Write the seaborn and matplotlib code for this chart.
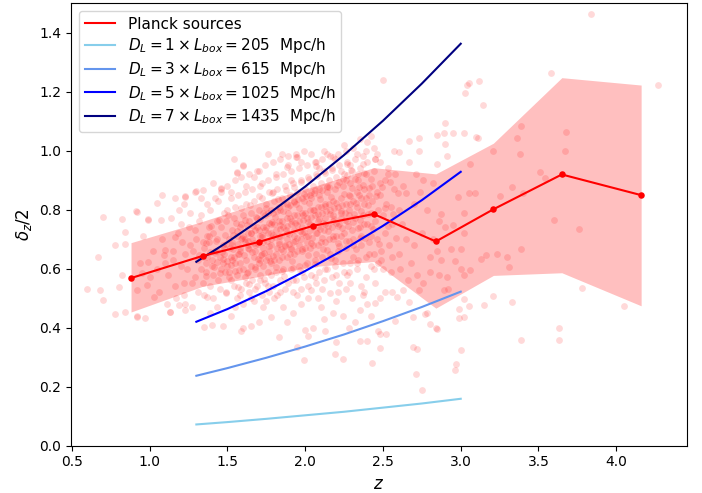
import matplotlib
matplotlib.use("Agg")
import matplotlib.pyplot as plt
import seaborn as sns

# --- binned Planck source statistics ---
bin_z    = [0.88, 1.34, 1.70, 2.05, 2.44, 2.84, 3.21, 3.65, 4.16]
bin_mean = [0.568, 0.643, 0.690, 0.745, 0.785, 0.692, 0.801, 0.919, 0.849]
bin_hi   = [0.688, 0.760, 0.822, 0.878, 0.942, 0.921, 1.025, 1.247, 1.222]
bin_lo   = [0.453, 0.540, 0.573, 0.607, 0.624, 0.466, 0.577, 0.586, 0.474]

# --- D_L reference curves ---
line_z = [1.30, 1.50, 1.75, 2.00, 2.25, 2.50, 2.75, 3.00]
dl_1 = [0.072, 0.080, 0.091, 0.103, 0.115, 0.129, 0.143, 0.159]
dl_3 = [0.237, 0.263, 0.298, 0.336, 0.377, 0.422, 0.470, 0.522]
dl_5 = [0.420, 0.463, 0.524, 0.592, 0.665, 0.745, 0.832, 0.928]
dl_7 = [0.623, 0.690, 0.780, 0.878, 0.985, 1.101, 1.227, 1.362]
dl_labels = [r"$D_L = 1 \times L_{box} = 205$  Mpc/h",
             r"$D_L = 3 \times L_{box} = 615$  Mpc/h",
             r"$D_L = 5 \times L_{box} = 1025$  Mpc/h",
             r"$D_L = 7 \times L_{box} = 1435$  Mpc/h"]
dl_colors = ["skyblue", "cornflowerblue", "blue", "navy"]

# --- individual sources (hand-read estimates) ---
src_left = [(0.70,0.775),(0.82,0.767),(0.91,0.795),(0.67,0.64),(0.78,0.68),(0.84,0.723),(0.84,0.685),
    (0.82,0.58),(0.80,0.537),(0.68,0.527),(0.70,0.493),(0.78,0.445),(0.84,0.452),(0.92,0.44),(0.97,0.433),
    (0.99,0.767),(1.05,0.823),(1.08,0.851),(1.16,0.84),(1.23,0.846),(1.07,0.764),(0.99,0.623),(0.95,0.584),
    (0.92,0.527),(0.98,0.546),(1.03,0.505),(1.06,0.521),(1.10,0.663),(1.09,0.646),(1.15,0.629),(1.13,0.454),
    (1.19,0.476),(1.23,0.46),(1.22,0.818),(1.16,0.708),(0.92,0.792),(0.99,0.764),(1.23,0.844),(1.29,0.86),
    (1.33,0.838),(1.41,0.889),(1.46,0.86),(1.30,0.863),(1.34,0.868),(1.46,0.872),(0.60,0.53),
    (1.12,0.58),(1.15,0.66),(1.18,0.72),(1.20,0.61),(1.22,0.55),(1.17,0.50),(1.14,0.77),(1.21,0.69),
    (1.10,0.62),(1.19,0.80),(1.08,0.70),(1.05,0.60),(1.02,0.66),(1.00,0.57),(0.96,0.71),(0.94,0.62),
    (1.11,0.48),(1.16,0.54),(1.23,0.48),(1.20,0.75)]
src_top = [(1.54,0.973),(1.60,0.949),(1.56,0.924),(1.70,0.931),(1.76,0.987),(1.85,0.987),(1.95,0.977),
    (1.88,0.943),(2.07,0.948),(2.18,0.979),(2.31,1.01),(2.27,0.956),(2.45,0.973),(1.94,0.979),(2.07,0.962),
    (2.14,0.99),(2.29,0.951),(2.37,0.954),(2.46,0.99),(1.56,0.928),(1.60,0.951),(2.50,1.238),(2.40,1.03),
    (2.35,1.04),(2.25,1.02),(2.42,1.05)]
src_right = [(3.03,1.195),(3.04,1.221),(3.05,1.23),(3.12,1.236),(3.14,1.153),(3.58,1.263),(3.84,1.464),
    (4.27,1.221),(2.90,1.093),(3.39,1.082),(3.68,1.062),(3.36,1.041),(3.38,0.988),(3.67,0.997),(3.21,1.0),
    (3.51,0.927),(3.54,0.907),(3.06,0.954),(3.02,1.058),(2.95,1.06),(3.10,1.046),(3.11,1.044),(2.89,1.059),
    (2.85,1.053),(2.73,1.044),(2.67,1.034),(2.90,1.022),(2.91,0.983),(2.85,0.954),(2.73,1.0),(2.57,1.0),
    (2.60,0.995),(2.67,0.96),(2.71,0.922),(2.82,0.89),(2.74,0.86),(2.65,0.855),(2.98,0.843),(3.05,0.857),
    (3.09,0.855),(3.25,0.847),(3.33,0.875),(3.40,0.855),
    (3.60,0.764),(3.76,0.733),(3.39,0.667),(3.23,0.651),(3.30,0.64),(3.31,0.606),(3.16,0.645),(3.13,0.634),
    (3.02,0.719),(3.02,0.787),(2.95,0.747),(2.87,0.785),(2.86,0.76),(3.00,0.668),(2.94,0.665),(2.87,0.629),
    (2.96,0.625),(3.02,0.578),(3.06,0.597),(3.00,0.60),(2.91,0.57),(2.89,0.527),(2.92,0.53),(2.86,0.58),
    (2.80,0.589),(2.80,0.64),(2.72,0.578),(2.73,0.527),(2.76,0.55),(3.02,0.497),(3.05,0.473),(2.99,0.464),
    (2.99,0.433),(3.02,0.435),(3.15,0.477),(3.21,0.507),(3.33,0.486),(3.78,0.535),(4.05,0.474),(3.63,0.40),
    (3.63,0.359),(3.39,0.359),(3.00,0.324),(2.97,0.278),(2.96,0.257),(2.69,0.333),(2.72,0.328),(2.71,0.244),
    (2.75,0.189),(2.80,0.414),(2.84,0.40),(2.85,0.395),(2.78,0.448),(2.77,0.445),(2.69,0.437),(2.58,0.422),
    (2.52,0.38),(2.48,0.38),(2.48,0.331),(2.63,0.527),(2.67,0.488),(2.59,0.505),(2.56,0.52),(2.51,0.521),
    (2.45,0.482),(2.50,0.60),(2.55,0.59),(2.60,0.65),(2.65,0.70),(2.62,0.75),(2.70,0.68),(2.68,0.62),
    (2.75,0.72),(2.78,0.80),(2.82,0.70),(2.85,0.66),(2.90,0.74),(2.60,0.80),(2.63,0.88),(2.58,0.92),
    (2.70,0.82),(2.76,0.90),(2.66,0.56),(2.61,0.60)]
src_low = [(1.35,0.401),(1.40,0.41),(1.47,0.406),(1.59,0.388),(1.60,0.40),(1.65,0.405),(1.70,0.42),
    (1.83,0.369),(1.95,0.335),(1.99,0.29),(2.00,0.392),(2.02,0.373),(2.05,0.40),(2.13,0.39),(2.28,0.40),
    (2.20,0.352),(2.19,0.31),(2.24,0.293),(2.35,0.356),(2.40,0.356),(2.47,0.39),(2.43,0.28),
    (0.92,0.437),(1.13,0.454),(1.22,0.51),(1.27,0.47),(1.37,0.505),(1.39,0.448),(1.49,0.516),(1.55,0.47),
    (1.60,0.48),(1.65,0.50),(1.73,0.471),(1.78,0.437),(1.80,0.50),(1.86,0.47),(1.92,0.448),(1.97,0.48),
    (2.04,0.527),(2.10,0.47),(2.16,0.516),(2.20,0.49),(2.24,0.44),(2.26,0.53),(2.35,0.46),(2.38,0.52),
    (2.42,0.44),(2.30,0.50),(2.12,0.43),(1.88,0.42),(1.52,0.44),(1.43,0.47),(2.32,0.42),(2.40,0.48),
    (2.45,0.55),(2.22,0.55),(2.18,0.45),(2.08,0.50),(1.95,0.51),(1.75,0.49),(2.48,0.50),(2.36,0.54)]
src_fringe = [(1.92,0.56),(1.98,0.59),(2.06,0.57),(2.13,0.60),(2.19,0.63),(2.27,0.58),(2.33,0.62),
    (2.39,0.57),(2.44,0.60),(2.21,0.52),(2.11,0.53),(2.29,0.55),(2.37,0.51),(2.02,0.50),(1.84,0.52),
    (1.76,0.54),(1.68,0.53),(1.58,0.51),(2.41,0.65),(2.31,0.64),
    (1.72,0.89),(1.81,0.92),(1.89,0.95),(1.97,0.96),(2.04,0.99),(2.12,1.00),(2.19,0.97),(2.23,0.93),
    (2.33,0.99),(2.39,1.00),(2.44,1.01),(2.48,0.96),(1.62,0.88),(1.67,0.91),(1.79,0.86),(1.91,0.90),
    (2.09,0.94),(2.26,0.90),(2.34,0.92),(1.52,0.86)]
src_core = [
    (1.24,0.60),(1.26,0.68),(1.25,0.74),(1.27,0.55),(1.23,0.65),(1.26,0.79),
    (1.29,0.57),(1.31,0.63),(1.30,0.70),(1.32,0.76),(1.28,0.66),(1.31,0.52),(1.33,0.60),(1.29,0.73),
    (1.34,0.55),(1.36,0.62),(1.35,0.67),(1.37,0.71),(1.33,0.78),(1.36,0.59),(1.34,0.64),(1.38,0.74),(1.35,0.51),(1.37,0.82),
    (1.39,0.54),(1.41,0.58),(1.40,0.63),(1.42,0.66),(1.38,0.69),(1.41,0.72),(1.43,0.76),(1.39,0.80),(1.40,0.61),(1.42,0.84),(1.41,0.50),(1.38,0.71),
    (1.44,0.56),(1.46,0.60),(1.45,0.64),(1.47,0.68),(1.43,0.70),(1.46,0.74),(1.48,0.79),(1.44,0.83),(1.45,0.53),(1.47,0.62),(1.43,0.66),(1.46,0.87),
    (1.49,0.52),(1.51,0.57),(1.50,0.61),(1.52,0.64),(1.48,0.67),(1.51,0.70),(1.53,0.73),(1.49,0.76),(1.50,0.80),(1.52,0.84),(1.51,0.59),(1.48,0.65),(1.53,0.69),(1.50,0.88),
    (1.54,0.54),(1.56,0.58),(1.55,0.62),(1.57,0.65),(1.53,0.68),(1.56,0.71),(1.58,0.74),(1.54,0.77),(1.55,0.81),(1.57,0.85),(1.56,0.50),(1.53,0.63),(1.58,0.67),(1.55,0.90),
    (1.59,0.53),(1.61,0.57),(1.60,0.60),(1.62,0.63),(1.58,0.66),(1.61,0.69),(1.63,0.72),(1.59,0.75),(1.60,0.78),(1.62,0.82),(1.61,0.86),(1.58,0.62),(1.63,0.68),(1.60,0.71),(1.62,0.55),(1.59,0.91),
    (1.64,0.52),(1.66,0.56),(1.65,0.61),(1.67,0.64),(1.63,0.67),(1.66,0.70),(1.68,0.73),(1.64,0.76),(1.65,0.79),(1.67,0.83),(1.66,0.87),(1.63,0.59),(1.68,0.66),(1.65,0.72),(1.67,0.49),(1.64,0.92),
    (1.69,0.54),(1.71,0.58),(1.70,0.62),(1.72,0.65),(1.68,0.68),(1.71,0.71),(1.73,0.74),(1.69,0.77),(1.70,0.80),(1.72,0.84),(1.71,0.88),(1.68,0.60),(1.73,0.67),(1.70,0.73),(1.72,0.51),(1.69,0.93),(1.71,0.63),(1.73,0.79),
    (1.74,0.55),(1.76,0.59),(1.75,0.63),(1.77,0.66),(1.73,0.69),(1.76,0.72),(1.78,0.75),(1.74,0.78),(1.75,0.82),(1.77,0.86),(1.76,0.90),(1.73,0.61),(1.78,0.68),(1.75,0.74),(1.77,0.52),(1.74,0.95),(1.76,0.64),(1.78,0.80),
    (1.79,0.54),(1.81,0.59),(1.80,0.63),(1.82,0.67),(1.78,0.70),(1.81,0.73),(1.83,0.76),(1.79,0.79),(1.80,0.83),(1.82,0.87),(1.81,0.91),(1.78,0.62),(1.83,0.69),(1.80,0.75),(1.82,0.51),(1.79,0.96),(1.81,0.65),(1.83,0.81),
    (1.84,0.56),(1.86,0.60),(1.85,0.64),(1.87,0.68),(1.83,0.71),(1.86,0.74),(1.88,0.77),(1.84,0.80),(1.85,0.84),(1.87,0.88),(1.86,0.92),(1.83,0.63),(1.88,0.70),(1.85,0.76),(1.87,0.53),(1.84,0.97),(1.86,0.66),(1.88,0.82),
    (1.89,0.55),(1.91,0.60),(1.90,0.65),(1.92,0.69),(1.88,0.72),(1.91,0.75),(1.93,0.78),(1.89,0.81),(1.90,0.85),(1.92,0.89),(1.91,0.93),(1.88,0.64),(1.93,0.71),(1.90,0.77),(1.92,0.52),(1.89,0.98),(1.91,0.67),(1.93,0.83),
    (1.94,0.56),(1.96,0.61),(1.95,0.66),(1.97,0.70),(1.93,0.73),(1.96,0.76),(1.98,0.79),(1.94,0.82),(1.95,0.86),(1.97,0.90),(1.96,0.94),(1.93,0.65),(1.98,0.72),(1.95,0.78),(1.97,0.53),(1.94,0.99),(1.96,0.68),(1.98,0.84),
    (1.99,0.57),(2.01,0.62),(2.00,0.67),(2.02,0.71),(1.98,0.74),(2.01,0.77),(2.03,0.80),(1.99,0.83),(2.00,0.87),(2.02,0.91),(2.01,0.95),(1.98,0.66),(2.03,0.73),(2.00,0.79),(2.02,0.54),(1.99,1.00),(2.01,0.69),(2.03,0.85),
    (2.04,0.58),(2.06,0.63),(2.05,0.68),(2.07,0.72),(2.03,0.75),(2.06,0.78),(2.08,0.81),(2.04,0.84),(2.05,0.88),(2.07,0.92),(2.06,0.96),(2.03,0.67),(2.08,0.74),(2.05,0.80),(2.07,0.55),(2.04,0.86),
    (2.09,0.59),(2.11,0.64),(2.10,0.69),(2.12,0.73),(2.08,0.76),(2.11,0.79),(2.13,0.82),(2.09,0.85),(2.10,0.89),(2.12,0.93),(2.11,0.97),(2.08,0.68),(2.13,0.75),(2.10,0.81),(2.12,0.56),(2.09,0.87),
    (2.14,0.60),(2.16,0.65),(2.15,0.70),(2.17,0.74),(2.13,0.77),(2.16,0.80),(2.18,0.83),(2.14,0.86),(2.15,0.90),(2.17,0.94),(2.16,0.98),(2.13,0.69),(2.18,0.76),(2.15,0.82),(2.17,0.57),(2.14,0.88),
    (2.19,0.61),(2.21,0.66),(2.20,0.71),(2.22,0.75),(2.18,0.78),(2.21,0.81),(2.23,0.84),(2.19,0.87),(2.20,0.91),(2.22,0.95),(2.21,0.99),(2.18,0.70),(2.23,0.77),(2.20,0.58),
    (2.24,0.62),(2.26,0.67),(2.25,0.72),(2.27,0.76),(2.23,0.79),(2.26,0.82),(2.28,0.85),(2.24,0.88),(2.25,0.92),(2.27,0.96),(2.26,1.00),(2.23,0.71),(2.28,0.78),(2.25,0.59),
    (2.29,0.62),(2.31,0.68),(2.30,0.73),(2.32,0.77),(2.28,0.80),(2.31,0.83),(2.33,0.86),(2.29,0.89),(2.30,0.93),(2.32,0.97),(2.31,0.70),(2.28,0.59),
    (2.34,0.63),(2.36,0.68),(2.35,0.74),(2.37,0.78),(2.33,0.81),(2.36,0.84),(2.38,0.87),(2.34,0.90),(2.35,0.94),(2.37,0.98),(2.36,0.71),(2.33,0.60),
    (2.39,0.64),(2.41,0.69),(2.40,0.75),(2.42,0.79),(2.38,0.82),(2.41,0.85),(2.43,0.88),(2.39,0.92),(2.40,0.96),(2.42,0.61),
    (2.44,0.65),(2.46,0.70),(2.45,0.76),(2.47,0.80),(2.43,0.83),(2.46,0.86),(2.48,0.89),(2.44,0.93),(2.45,0.97),(2.47,0.62),
    (2.49,0.66),(2.51,0.72),(2.50,0.78),(2.52,0.82),(2.48,0.85),(2.51,0.90),(2.53,0.94),(2.49,0.63),
    (2.54,0.68),(2.56,0.75),(2.55,0.81),(2.57,0.87),(2.53,0.92),(2.56,0.64)]
src_core2 = [(1.32,0.645),(1.345,0.69),(1.365,0.575),(1.385,0.655),(1.395,0.745),(1.415,0.605),(1.425,0.695),
    (1.445,0.765),(1.455,0.585),(1.465,0.655),(1.485,0.715),(1.495,0.625),(1.505,0.78),(1.515,0.67),
    (1.525,0.56),(1.535,0.715),(1.545,0.64),(1.555,0.755),(1.565,0.685),(1.575,0.595),(1.585,0.805),
    (1.595,0.705),(1.605,0.645),(1.615,0.765),(1.625,0.585),(1.635,0.695),(1.645,0.815),(1.655,0.655),
    (1.665,0.745),(1.675,0.605),(1.685,0.775),(1.695,0.685),(1.705,0.845),(1.715,0.645),(1.725,0.715),
    (1.735,0.565),(1.745,0.805),(1.755,0.695),(1.765,0.755),(1.775,0.625),(1.785,0.855),(1.795,0.715),
    (1.805,0.775),(1.815,0.605),(1.825,0.835),(1.835,0.735),(1.845,0.665),(1.855,0.795),(1.865,0.575),
    (1.875,0.865),(1.885,0.745),(1.895,0.685),(1.905,0.815),(1.915,0.625),(1.925,0.875),(1.935,0.755),
    (1.945,0.705),(1.955,0.835),(1.965,0.595),(1.975,0.895),(1.985,0.765),(1.995,0.725),(2.005,0.845),
    (2.015,0.645),(2.025,0.905),(2.035,0.775),(2.045,0.705),(2.055,0.855),(2.065,0.615),(2.075,0.915),
    (2.085,0.785),(2.095,0.735),(2.105,0.865),(2.115,0.665),(2.125,0.925),(2.135,0.795),(2.145,0.745),
    (2.155,0.875),(2.165,0.635),(2.175,0.935),(2.185,0.805),(2.195,0.755),(2.205,0.885),(2.215,0.675),
    (2.235,0.815),(2.245,0.905),(2.255,0.765),(2.265,0.695),(2.285,0.845),(2.295,0.935),(2.315,0.785),
    (2.325,0.665),(2.345,0.875),(2.355,0.765),(2.375,0.925),(2.385,0.705),(2.405,0.815),(2.425,0.905),
    (2.435,0.735),(2.455,0.845),(2.475,0.685),(2.495,0.875),(2.515,0.805),(2.535,0.745),(2.545,0.895),
    (2.565,0.785),(2.585,0.705),(2.595,0.855)]
src_core3 = [(1.612,0.702),(1.628,0.748),(1.641,0.668),(1.653,0.722),(1.672,0.688),(1.688,0.742),(1.697,0.632),
    (1.708,0.768),(1.719,0.706),(1.733,0.654),(1.741,0.732),(1.758,0.788),(1.764,0.676),(1.779,0.722),
    (1.787,0.758),(1.796,0.644),(1.808,0.708),(1.817,0.796),(1.829,0.684),(1.838,0.748),(1.846,0.712),
    (1.859,0.818),(1.867,0.676),(1.878,0.732),(1.887,0.788),(1.896,0.718),(1.909,0.666),(1.916,0.762),
    (1.928,0.826),(1.937,0.694),(1.948,0.748),(1.957,0.804),(1.966,0.728),(1.977,0.668),(1.986,0.782),
    (1.994,0.852),(2.006,0.712),(2.018,0.758),(2.027,0.824),(2.036,0.686),(2.047,0.742),(2.058,0.798),
    (2.066,0.868),(2.078,0.722),(2.087,0.768),(2.096,0.836),(2.108,0.704),(2.117,0.754),(2.128,0.812),
    (2.137,0.878),(2.146,0.726),(2.158,0.786),(2.167,0.842),(2.176,0.712),(2.188,0.768),(2.197,0.822),
    (2.209,0.744),(2.218,0.894),(2.228,0.796),(2.238,0.738),(2.249,0.852),(2.258,0.788),(2.268,0.918),
    (2.277,0.746),(2.289,0.818),(2.298,0.872),(2.308,0.758),(2.319,0.904),(2.329,0.822),(2.338,0.736),
    (2.348,0.848),(2.359,0.796),(2.369,0.882),(2.378,0.752),(2.391,0.838),(2.402,0.786),(2.413,0.872),
    (2.422,0.744),(1.52,0.612),(1.537,0.668),(1.548,0.592),(1.563,0.728),(1.577,0.648),(1.584,0.702),
    (1.47,0.632),(1.486,0.588),(1.492,0.684),(1.43,0.622),(1.42,0.652),(1.37,0.638),(1.362,0.688),
    (1.71,0.562),(1.78,0.578),(1.85,0.592),(1.92,0.602),(2.00,0.612),(2.07,0.648),(2.14,0.662),(2.21,0.686),
    (2.28,0.692),(2.35,0.704),(2.42,0.712),(1.64,0.548),(1.57,0.538)]

src_all = src_left + src_top + src_right + src_low + src_fringe + src_core + src_core2 + src_core3
src_z = [p[0] for p in src_all]
src_d = [p[1] for p in src_all]

fig = plt.figure(figsize=(7.02, 4.93), dpi=100)
ax = fig.add_axes([71/702, 47.3/493, 615.7/702, 442.7/493])

sns.scatterplot(x=src_z, y=src_d, color="red", alpha=0.15, s=24, linewidth=0, ax=ax, zorder=1)
ax.fill_between(bin_z, bin_lo, bin_hi, color="red", alpha=0.25, linewidth=0, zorder=2)
sns.lineplot(x=bin_z, y=bin_mean, color="red", lw=1.5, ax=ax, label="Planck sources",
             errorbar=None, sort=False, zorder=4)
sns.scatterplot(x=bin_z, y=bin_mean, color="red", s=22, linewidth=0, ax=ax, zorder=5, legend=False)

for vals, lab, col in zip([dl_1, dl_3, dl_5, dl_7], dl_labels, dl_colors):
    sns.lineplot(x=line_z, y=vals, color=col, lw=1.5, ax=ax, label=lab, errorbar=None, zorder=3)

ax.set_xlim(0.494, 4.453)
ax.set_ylim(0, 1.5)
ax.set_xticks([0.5, 1.0, 1.5, 2.0, 2.5, 3.0, 3.5, 4.0])
ax.set_yticks([0.0, 0.2, 0.4, 0.6, 0.8, 1.0, 1.2, 1.4])
ax.set_xlabel(r"$z$", fontsize=12)
ax.set_ylabel(r"$\delta_z/2$", fontsize=12)
ax.legend(loc="upper left", fontsize=11, labelspacing=0.3)

fig.savefig("out.png", dpi=100)
